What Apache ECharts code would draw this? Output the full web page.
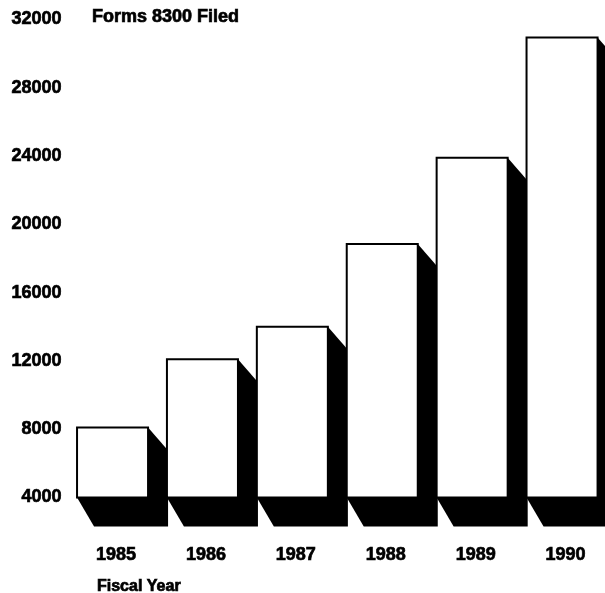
<!DOCTYPE html>
<html>
<head>
<meta charset="utf-8">
<script src="https://cdn.jsdelivr.net/npm/echarts@6/dist/echarts.min.js"></script>
<style>
html,body{margin:0;padding:0;background:#fff;}
#chart{width:605px;height:593px;}
</style>
</head>
<body>
<div id="chart"></div>
<script>
const categories = ['1985', '1986', '1987', '1988', '1989', '1990'];
const formsFiled = [8100, 12100, 14000, 18850, 23900, 30950];
const yTicks = [4000, 8000, 12000, 16000, 20000, 24000, 28000, 32000];
const chartTitle = 'Forms 8300 Filed';
const xTitle = 'Fiscal Year';

const FONT = "'Liberation Sans', Arial, Helvetica, sans-serif";
const BASE = yTicks[0];
const heavy = { textBorderColor: '#000', textBorderWidth: 0.7 };

function renderItem(params, api) {
  const cat = api.value(0);
  const val = api.value(1);
  const top = api.coord([cat, val]);
  const base = api.coord([cat, BASE]);
  const w = api.size([1, 0])[0] * 0.79;
  const x1 = top[0] - w / 2, x2 = top[0] + w / 2;
  const yT = top[1], yB = base[1];
  return {
    type: 'group',
    children: [
      {
        type: 'polygon',
        shape: { points: [[x1, yT], [x2, yT], [x2 + 20, yT + 23], [x2 + 20, yB + 29], [x1 + 17, yB + 29], [x1, yB]] },
        style: { fill: '#000' }
      },
      {
        type: 'rect',
        shape: { x: x1, y: yT, width: w, height: yB - yT },
        style: { fill: '#fff', stroke: '#000', lineWidth: 2 }
      }
    ]
  };
}

const chart = echarts.init(document.getElementById('chart'), null, { renderer: 'canvas' });
chart.setOption({
  animation: false,
  backgroundColor: '#fff',
  textStyle: { fontFamily: FONT },
  title: [
    { text: chartTitle, left: 92, top: 8, padding: 0,
      textStyle: Object.assign({ fontFamily: FONT, fontSize: 18, fontWeight: 'bold', color: '#000' }, heavy) },
    { text: xTitle, left: 97, top: 579, padding: 0,
      textStyle: Object.assign({ fontFamily: FONT, fontSize: 16, fontWeight: 'bold', color: '#000' }, heavy) }
  ],
  grid: { left: 67.6, right: -2, top: 19.5, bottom: 95.5, containLabel: false, outerBoundsMode: 'none' },
  xAxis: {
    type: 'category',
    data: categories,
    axisLine: { show: false },
    axisTick: { show: false },
    splitLine: { show: false },
    axisLabel: Object.assign({ margin: 49, padding: [0, 0, 0, 7], fontFamily: FONT, fontSize: 18, fontWeight: 'bold', color: '#000' }, heavy)
  },
  yAxis: {
    type: 'value',
    min: yTicks[0],
    max: yTicks[yTicks.length - 1],
    interval: yTicks[1] - yTicks[0],
    axisLine: { show: false },
    axisTick: { show: false },
    splitLine: { show: false },
    axisLabel: Object.assign({ margin: 6, formatter: (v) => String(v), fontFamily: FONT, fontSize: 18, fontWeight: 'bold', color: '#000' }, heavy)
  },
  series: [{
    type: 'custom',
    renderItem: renderItem,
    clip: false,
    data: formsFiled.map((v, i) => [i, v])
  }]
});
</script>
</body>
</html>
